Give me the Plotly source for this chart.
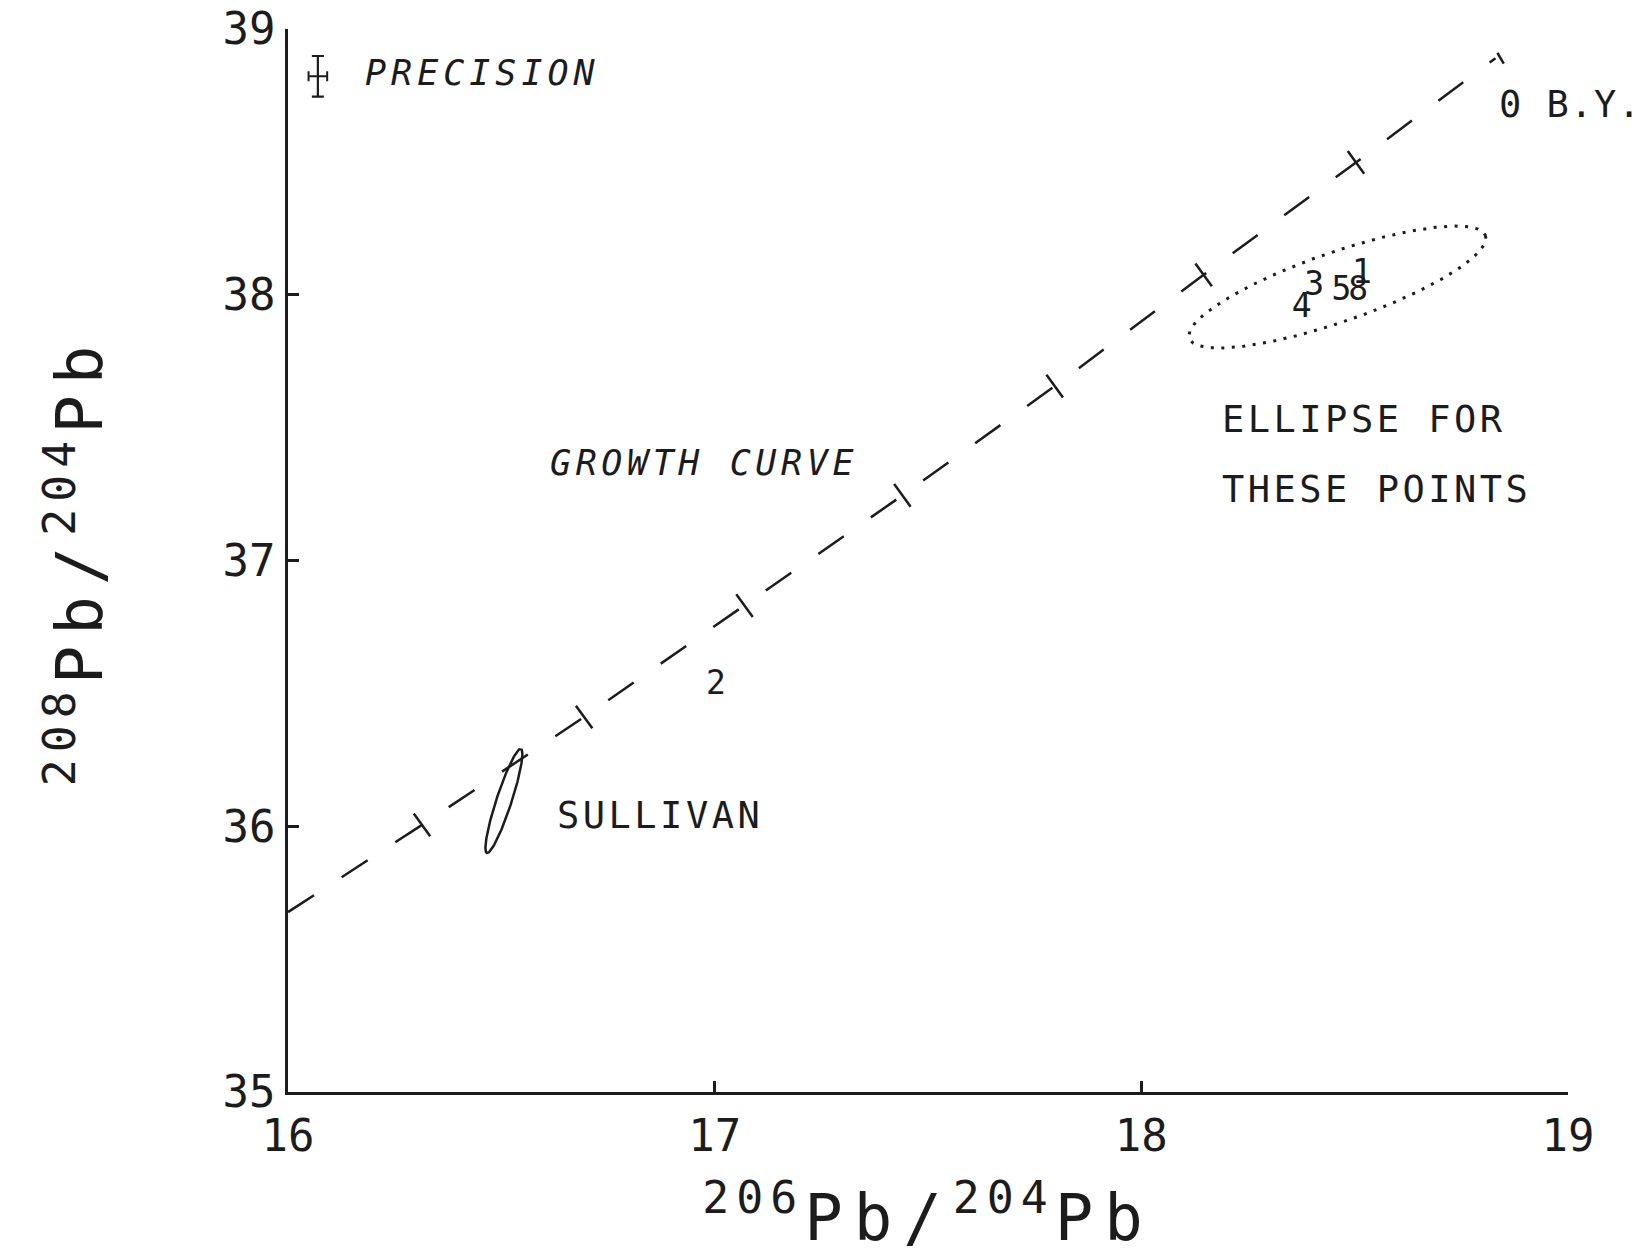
import numpy as np
import plotly.graph_objects as go

# ---------------- data ----------------
# growth curve (206Pb/204Pb vs 208Pb/204Pb) and its age marks
curve_x = [16.0, 16.314, 16.694, 17.07, 17.44, 17.797, 18.146, 18.503, 18.83]
curve_y = [35.677, 36.005, 36.411, 36.83, 37.245, 37.656, 38.075, 38.498, 38.89]
age_tick_x = [16.314, 16.694, 17.07, 17.44, 17.797, 18.146, 18.503]
age_tick_y = [36.005, 36.411, 36.83, 37.245, 37.656, 38.075, 38.498]
end_tick_x = [18.842]
end_tick_y = [38.89]

# numbered samples
sample_labels = ["1", "2", "3", "4", "5", "8"]
sample_x = [18.517, 17.003, 18.405, 18.376, 18.469, 18.508]
sample_y = [38.074, 36.53, 38.031, 37.946, 38.010, 38.010]

# precision symbol
precision_x = [16.070]
precision_y = [38.822]
precision_err_x = [0.0218]
precision_err_y = [0.0764]

# ellipses: centre, semi-axis vectors (data units)
sullivan_center = [16.506, 36.095]
sullivan_u = [0.0398, 0.1957]
sullivan_v = [0.01693, -0.00888]
points_center = [18.4596, 38.029]
points_u = [0.3470, 0.1932]
points_v = [0.02672, -0.1237]

x_ticks = [16, 17, 18, 19]
y_ticks = [35, 36, 37, 38, 39]

# ---------------- figure ----------------
FONT = "DejaVu Sans Mono"
INK = "#1c1c1c"


def ellipse(center, u, v, n=240):
    t = np.linspace(0, 2 * np.pi, n)
    ex = center[0] + np.cos(t) * u[0] + np.sin(t) * v[0]
    ey = center[1] + np.cos(t) * u[1] + np.sin(t) * v[1]
    return ex, ey


fig = go.Figure()

fig.add_trace(go.Scatter(x=curve_x, y=curve_y, mode="lines",
                         line=dict(color=INK, width=2.5, dash="31px,33px"),
                         hoverinfo="skip"))
fig.add_trace(go.Scatter(x=age_tick_x, y=age_tick_y, mode="markers",
                         marker=dict(symbol="line-ns", size=20, angle=-36,
                                     line=dict(color=INK, width=2.5)),
                         hoverinfo="skip"))
fig.add_trace(go.Scatter(x=end_tick_x, y=end_tick_y, mode="markers",
                         marker=dict(symbol="line-ns", size=9, angle=-30,
                                     line=dict(color=INK, width=2.5)),
                         hoverinfo="skip"))

sx, sy = ellipse(sullivan_center, sullivan_u, sullivan_v)
fig.add_trace(go.Scatter(x=sx, y=sy, mode="lines",
                         line=dict(color=INK, width=2.5), hoverinfo="skip"))

px_, py_ = ellipse(points_center, points_u, points_v, n=400)
fig.add_trace(go.Scatter(x=px_, y=py_, mode="lines",
                         line=dict(color=INK, width=3, dash="3px,7.5px"),
                         hoverinfo="skip"))

fig.add_trace(go.Scatter(x=sample_x, y=sample_y, mode="text", text=sample_labels,
                         textposition="middle center",
                         textfont=dict(family=FONT, size=33, color=INK),
                         hoverinfo="skip"))

fig.add_trace(go.Scatter(x=precision_x, y=precision_y, mode="markers",
                         marker=dict(size=1, color=INK, opacity=0),
                         error_x=dict(type="data", array=precision_err_x, color=INK,
                                      thickness=2, width=5),
                         error_y=dict(type="data", array=precision_err_y, color=INK,
                                      thickness=2.2, width=6),
                         hoverinfo="skip"))


def spaced(txt, sp):
    return f'<span style="letter-spacing:{sp}px">{txt}</span>'


annots = [
    ("<i>" + spaced("PRECISION", 5) + "</i>", 16.1758, 38.835, 35),
    ("<i>" + spaced("GROWTH CURVE", 4.6) + "</i>", 16.609, 37.367, 35),
    (spaced("SULLIVAN", 3.5), 16.626, 36.042, 37),
    (spaced("ELLIPSE FOR", 3.5), 18.184, 37.532, 37),
    (spaced("THESE POINTS", 3.5), 18.184, 37.269, 37),
    (spaced("0 B.Y.", 1.5), 18.834, 38.716, 37),
]
for txt, ax, ay, fs in annots:
    fig.add_annotation(x=ax, y=ay, xref="x", yref="y", text=txt, showarrow=False,
                       xanchor="left", yanchor="middle",
                       font=dict(family=FONT, size=fs, color=INK))


def iso_title(top):
    sup = 'style="letter-spacing:7px"'
    return (f'<sup {sup}>{top}</sup>' + spaced("Pb/", 11) +
            f'<sup {sup}>204</sup>' + spaced("Pb", 11))


axis_common = dict(showline=True, linecolor=INK, linewidth=2.5, ticks="inside",
                   ticklen=11, tickwidth=2.5, tickcolor=INK, showgrid=False,
                   zeroline=False, automargin=False, ticklabeloverflow="allow",
                   tickfont=dict(family=FONT, size=44, color=INK))

fig.update_xaxes(range=[16, 19], tickvals=x_ticks, ticktext=[str(v) for v in x_ticks],
                 ticklabelstandoff=3,
                 title=dict(text=iso_title("206"), standoff=36,
                            font=dict(family=FONT, size=64, color=INK)),
                 **axis_common)
fig.update_yaxes(range=[35, 39], tickvals=y_ticks, ticktext=[str(v) for v in y_ticks],
                 ticklabelstandoff=1,
                 title=dict(text=iso_title("208"), standoff=100,
                            font=dict(family=FONT, size=64, color=INK)),
                 **axis_common)

fig.update_layout(width=1646, height=1256, autosize=False,
                  margin=dict(l=280, r=86, t=21, b=172),
                  paper_bgcolor="white", plot_bgcolor="white", showlegend=False)

fig.write_html("out.html")
